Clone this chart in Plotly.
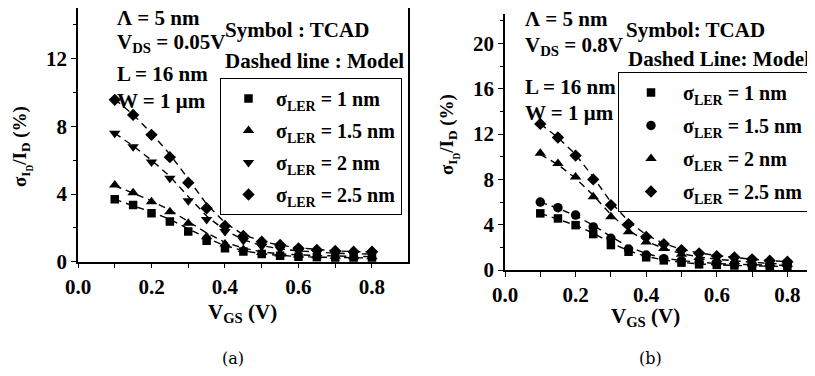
import plotly.graph_objects as go

vgs = [0.1, 0.15, 0.2, 0.25, 0.3, 0.35, 0.4, 0.45, 0.5, 0.55, 0.6, 0.65, 0.7, 0.75, 0.8]

# Panel (a): VDS = 0.05 V  (TCAD symbols)
a_labels = ["σ<sub>LER</sub> = 1 nm", "σ<sub>LER</sub> = 1.5 nm", "σ<sub>LER</sub> = 2 nm", "σ<sub>LER</sub> = 2.5 nm"]
a_tcad_1 = [3.69, 3.35, 2.86, 2.37, 1.78, 1.24, 0.79, 0.6, 0.45, 0.35, 0.3, 0.26, 0.24, 0.22, 0.2]
a_tcad_15 = [4.54, 4.08, 3.55, 2.96, 2.27, 1.48, 1.05, 0.72, 0.55, 0.45, 0.4, 0.35, 0.32, 0.3, 0.3]
a_tcad_2 = [7.6, 6.8, 5.9, 4.93, 3.6, 2.5, 1.78, 1.25, 0.92, 0.75, 0.62, 0.55, 0.5, 0.46, 0.45]
a_tcad_25 = [9.57, 8.68, 7.5, 6.18, 4.67, 3.16, 2.11, 1.52, 1.18, 0.99, 0.79, 0.69, 0.63, 0.59, 0.59]
# Panel (a) model (dashed)
a_model_1 = [3.7, 3.3, 2.95, 2.5, 1.95, 1.4, 0.95, 0.65, 0.46, 0.36, 0.3, 0.27, 0.25, 0.23, 0.22]
a_model_15 = [4.5, 4.05, 3.6, 3.05, 2.4, 1.7, 1.15, 0.8, 0.58, 0.46, 0.4, 0.36, 0.33, 0.31, 0.3]
a_model_2 = [7.6, 6.85, 6.0, 5.05, 3.85, 2.7, 1.85, 1.3, 0.95, 0.76, 0.64, 0.56, 0.5, 0.47, 0.45]
a_model_25 = [9.6, 8.7, 7.6, 6.35, 4.9, 3.4, 2.3, 1.6, 1.2, 0.98, 0.82, 0.71, 0.64, 0.6, 0.58]

# Panel (b): VDS = 0.8 V  (TCAD symbols)
b_labels = ["σ<sub>LER</sub> = 1 nm", "σ<sub>LER</sub> = 1.5 nm", "σ<sub>LER</sub> = 2 nm", "σ<sub>LER</sub> = 2.5 nm"]
b_tcad_1 = [5.0, 4.55, 3.96, 3.17, 2.2, 1.61, 1.12, 0.85, 0.65, 0.5, 0.45, 0.4, 0.35, 0.3, 0.3]
b_tcad_15 = [6.0, 5.5, 4.85, 3.8, 2.8, 1.85, 1.32, 1.0, 0.8, 0.65, 0.55, 0.5, 0.45, 0.4, 0.4]
b_tcad_2 = [10.3, 9.4, 8.2, 6.46, 4.7, 3.37, 2.48, 1.9, 1.4, 1.1, 0.9, 0.75, 0.65, 0.55, 0.5]
b_tcad_25 = [12.9, 11.7, 10.1, 8.0, 5.73, 4.05, 2.93, 2.29, 1.76, 1.47, 1.23, 1.12, 0.94, 0.82, 0.73]
# Panel (b) model (dashed)
b_model_1 = [5.0, 4.5, 3.95, 3.25, 2.4, 1.7, 1.2, 0.88, 0.67, 0.53, 0.45, 0.4, 0.36, 0.33, 0.31]
b_model_15 = [6.0, 5.45, 4.8, 3.95, 2.95, 2.05, 1.45, 1.06, 0.82, 0.67, 0.57, 0.5, 0.45, 0.42, 0.4]
b_model_2 = [10.2, 9.3, 8.1, 6.6, 4.9, 3.5, 2.55, 1.9, 1.45, 1.15, 0.95, 0.8, 0.68, 0.58, 0.5]
b_model_25 = [12.9, 11.7, 10.2, 8.2, 6.0, 4.3, 3.1, 2.35, 1.82, 1.5, 1.27, 1.1, 0.95, 0.83, 0.74]

# page body has an 8px margin: figure is placed at (8, 8) in the window
OFF = 8
W, H = 815 - OFF, 376 - OFF
def px(x):
    return min(1.0, max(0.0, (x - OFF) / W))
def py(y):
    return min(1.0, max(0.0, 1 - (y - OFF) / H))

SERIF = "Liberation Serif"
fig = go.Figure()

a_sets = [(a_tcad_1, a_model_1, "square", 8.5),
          (a_tcad_15, a_model_15, "triangle-up", 10),
          (a_tcad_2, a_model_2, "triangle-down", 10),
          (a_tcad_25, a_model_25, "diamond", 9.5)]
b_sets = [(b_tcad_1, b_model_1, "square", 8.5),
          (b_tcad_15, b_model_15, "circle", 9.5),
          (b_tcad_2, b_model_2, "triangle-up", 10),
          (b_tcad_25, b_model_25, "diamond", 9.5)]

for i, (t, m, sym, sz) in enumerate(a_sets):
    fig.add_trace(go.Scatter(x=vgs, y=m, mode="lines", line=dict(color="black", width=1.4, dash="7px,5px"),
                             showlegend=False, xaxis="x", yaxis="y", hoverinfo="skip"))
for i, (t, m, sym, sz) in enumerate(a_sets):
    fig.add_trace(go.Scatter(x=vgs, y=t, mode="markers", name=a_labels[i],
                             marker=dict(symbol=sym, size=sz, color="black"),
                             xaxis="x", yaxis="y", legend="legend", legendgroup="a%d" % i))
for i, (t, m, sym, sz) in enumerate(b_sets):
    fig.add_trace(go.Scatter(x=vgs, y=m, mode="lines", line=dict(color="black", width=1.4, dash="7px,5px"),
                             showlegend=False, xaxis="x2", yaxis="y2", hoverinfo="skip"))
for i, (t, m, sym, sz) in enumerate(b_sets):
    fig.add_trace(go.Scatter(x=vgs, y=t, mode="markers", name=b_labels[i],
                             marker=dict(symbol=sym, size=sz, color="black"),
                             xaxis="x2", yaxis="y2", legend="legend2", legendgroup="b%d" % i))

tickfont = dict(family=SERIF, size=21, color="black", weight="bold")
ax_common = dict(showline=True, linecolor="black", linewidth=1.5, showgrid=False, zeroline=False,
                 ticks="outside", ticklen=5, tickwidth=1.2, tickcolor="black", tickfont=tickfont)

fig.update_layout(
    width=W, height=H, margin=dict(l=0, r=0, t=0, b=0, autoexpand=False),
    paper_bgcolor="white", plot_bgcolor="white", showlegend=True,
    xaxis=dict(domain=[px(78), px(408)], range=[0, 0.898], anchor="y", dtick=0.2, tickformat=".1f",
               minor=dict(dtick=0.1, ticks="outside", ticklen=5, tickcolor="black"), **ax_common),
    yaxis=dict(domain=[py(261.7), py(8)], range=[0, 15.0], anchor="x", dtick=4, mirror=True,
               minor=dict(dtick=2, ticks="outside", ticklen=3, tickcolor="black"), **ax_common),
    xaxis3=dict(overlaying="x", side="top", anchor="y", range=[0, 0.898], showline=True, linecolor="black",
                linewidth=1.5, ticks="inside", ticklen=4, dtick=0.1, tickcolor="black", showticklabels=False,
                showgrid=False, zeroline=False),
    xaxis2=dict(domain=[px(505), px(814)], range=[0, 0.8755], anchor="y2", dtick=0.2, tickformat=".1f",
                minor=dict(dtick=0.1, ticks="outside", ticklen=5, tickcolor="black"), **ax_common),
    yaxis2=dict(domain=[py(270), py(14)], range=[0, 22.6], anchor="x2", dtick=4,
                minor=dict(dtick=2, ticks="outside", ticklen=3, tickcolor="black"), **ax_common),
    xaxis4=dict(overlaying="x2", side="top", anchor="y2", range=[0, 0.8755], showline=True, linecolor="black",
                linewidth=1.5, ticks="inside", ticklen=4, dtick=0.1, tickcolor="black", showticklabels=False,
                showgrid=False, zeroline=False),
    legend=dict(x=px(220), y=py(78), xanchor="left", yanchor="top", bordercolor="black", borderwidth=1,
                bgcolor="white", font=dict(family=SERIF, size=20, color="black", weight="bold"),
                tracegroupgap=3, itemwidth=45),
    legend2=dict(x=px(618), y=py(72), xanchor="left", yanchor="top", bordercolor="black", borderwidth=1,
                 bgcolor="white", font=dict(family=SERIF, size=20, color="black", weight="bold"),
                 tracegroupgap=4, itemwidth=54),
)

afont = dict(family=SERIF, size=21, color="black", weight="bold")
notes = [
    ("Λ = 5 nm", 115, 18), ("V<sub>DS</sub> = 0.05V", 115, 43), ("L = 16 nm", 115, 74), ("W = 1 μm", 115, 101),
    ("Symbol : TCAD", 223, 30), ("Dashed line : Model", 223, 61),
    ("Λ = 5 nm", 523, 19), ("V<sub>DS</sub> = 0.8V", 523, 46), ("L = 16 nm", 523, 87), ("W = 1 μm", 523, 113),
    ("Symbol: TCAD", 624, 30), ("Dashed Line: Model", 626, 59),
]
for txt, x, y in notes:
    fig.add_annotation(text=txt, x=px(x), y=py(y), xref="paper", yref="paper", xanchor="left", yanchor="middle",
                       showarrow=False, font=afont)

# axis titles
yfont = dict(family=SERIF, size=19, color="black", weight="bold")
ytitle = "σ<sub>I<sub>D</sub></sub>/I<sub>D</sub> (%)"
fig.add_annotation(text=ytitle, x=px(22), y=py(147), xref="paper", yref="paper", textangle=-90,
                   xanchor="center", yanchor="middle", showarrow=False, font=yfont)
fig.add_annotation(text=ytitle, x=px(449), y=py(135), xref="paper", yref="paper", textangle=-90,
                   xanchor="center", yanchor="middle", showarrow=False, font=yfont)
xtitle = "V<sub>GS</sub> (V)"
fig.add_annotation(text=xtitle, x=px(243), y=py(313), xref="paper", yref="paper", xanchor="center",
                   yanchor="middle", showarrow=False, font=afont)
fig.add_annotation(text=xtitle, x=px(645), y=py(317), xref="paper", yref="paper", xanchor="center",
                   yanchor="middle", showarrow=False, font=afont)

cfont = dict(family="DejaVu Serif", size=16, color="black")
fig.add_annotation(text="(a)", x=px(233), y=py(358), xref="paper", yref="paper", xanchor="center",
                   yanchor="middle", showarrow=False, font=cfont)
fig.add_annotation(text="(b)", x=px(650), y=py(358), xref="paper", yref="paper", xanchor="center",
                   yanchor="middle", showarrow=False, font=cfont)

fig.write_html("out.html")
